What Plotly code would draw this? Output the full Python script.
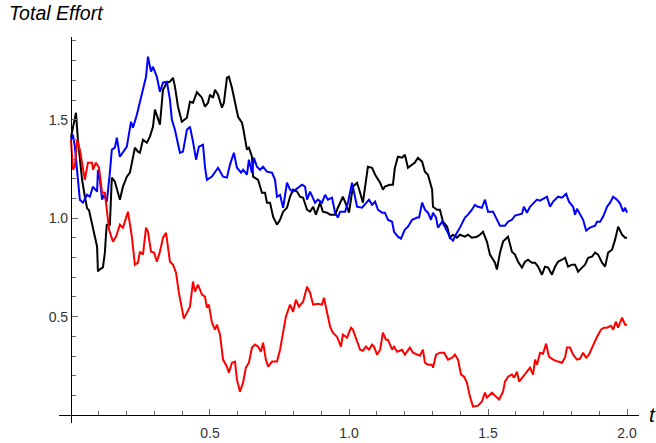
import numpy as np
import plotly.graph_objects as go

# ---- data: three sample paths of total effort over time t ----
t_black = [0.0, 0.018, 0.025, 0.040, 0.050, 0.058, 0.065, 0.079, 0.086, 0.094, 0.097, 0.104, 0.115, 0.122, 0.126, 0.129,
           0.140, 0.147, 0.158, 0.169, 0.176, 0.187, 0.201, 0.212, 0.223, 0.230, 0.241, 0.248, 0.259, 0.273, 0.284, 0.295,
           0.302, 0.313, 0.320, 0.331, 0.345, 0.356, 0.367, 0.374, 0.385, 0.399, 0.417, 0.428, 0.439, 0.453, 0.471, 0.482,
           0.493, 0.500, 0.511, 0.518, 0.529, 0.543, 0.550, 0.561, 0.568, 0.579, 0.590, 0.601, 0.615, 0.619, 0.633, 0.640,
           0.651, 0.655, 0.673, 0.687, 0.698, 0.705, 0.716, 0.727, 0.741, 0.752, 0.763, 0.777, 0.788, 0.799, 0.813, 0.824,
           0.835, 0.849, 0.860, 0.871, 0.881, 0.896, 0.906, 0.921, 0.932, 0.950, 0.960, 0.978, 0.993, 1.000, 1.014, 1.029,
           1.040, 1.050, 1.068, 1.083, 1.094, 1.112, 1.122, 1.129, 1.147, 1.158, 1.165, 1.176, 1.191, 1.201, 1.212, 1.227,
           1.237, 1.248, 1.263, 1.273, 1.284, 1.299, 1.302, 1.317, 1.327, 1.338, 1.353, 1.363, 1.374, 1.388, 1.399, 1.417,
           1.428, 1.442, 1.460, 1.471, 1.482, 1.496, 1.507, 1.525, 1.532, 1.543, 1.554, 1.572, 1.586, 1.597, 1.608, 1.622,
           1.633, 1.644, 1.658, 1.669, 1.680, 1.694, 1.705, 1.716, 1.730, 1.741, 1.752, 1.766, 1.777, 1.788, 1.802, 1.813,
           1.824, 1.838, 1.849, 1.860, 1.874, 1.885, 1.896, 1.910, 1.921, 1.932, 1.946, 1.957, 1.968, 1.982, 1.993, 2.000]
effort_black = [1.41, 1.535, 1.40, 1.195, 1.11, 1.05, 1.04, 0.95, 0.92, 0.855, 0.73, 0.74, 0.75, 0.825, 0.916, 0.967,
                0.967, 1.206, 1.185, 1.129, 1.094, 1.16, 1.211, 1.231, 1.312, 1.358, 1.338, 1.332, 1.398, 1.383, 1.414, 1.464,
                1.551, 1.50, 1.475, 1.652, 1.688, 1.693, 1.713, 1.668, 1.566, 1.49, 1.51, 1.591, 1.586, 1.64, 1.612, 1.566,
                1.586, 1.627, 1.612, 1.652, 1.627, 1.561, 1.586, 1.713, 1.718, 1.662, 1.591, 1.515, 1.485, 1.459, 1.348, 1.358,
                1.312, 1.211, 1.195, 1.129, 1.129, 1.079, 1.079, 1.008, 0.967, 0.992, 1.033, 1.053, 1.109, 1.145, 1.135, 1.109,
                1.104, 1.043, 1.033, 1.058, 1.018, 1.079, 1.033, 1.028, 1.018, 1.018, 1.053, 1.109, 1.058, 1.028, 1.16, 1.18,
                1.129, 1.079, 1.261, 1.256, 1.221, 1.18, 1.145, 1.16, 1.17, 1.17, 1.256, 1.312, 1.307, 1.322, 1.256, 1.272,
                1.282, 1.307, 1.287, 1.236, 1.221, 1.145, 1.058, 1.043, 1.043, 0.982, 0.957, 0.901, 0.916, 0.901, 0.916, 0.906,
                0.916, 0.901, 0.906, 0.916, 0.931, 0.881, 0.815, 0.774, 0.739, 0.825, 0.881, 0.906, 0.83, 0.815, 0.779, 0.749,
                0.779, 0.789, 0.774, 0.774, 0.754, 0.713, 0.754, 0.749, 0.713, 0.754, 0.779, 0.789, 0.799, 0.754, 0.764, 0.764,
                0.728, 0.749, 0.764, 0.799, 0.805, 0.825, 0.815, 0.774, 0.754, 0.825, 0.84, 0.891, 0.957, 0.916, 0.901, 0.901]

t_blue = [0.0, 0.007, 0.014, 0.025, 0.032, 0.043, 0.058, 0.068, 0.079, 0.094, 0.097, 0.104, 0.112, 0.119, 0.129, 0.140,
          0.147, 0.158, 0.165, 0.176, 0.187, 0.201, 0.216, 0.223, 0.237, 0.248, 0.259, 0.270, 0.277, 0.288, 0.295, 0.309,
          0.320, 0.331, 0.345, 0.356, 0.363, 0.374, 0.392, 0.403, 0.417, 0.428, 0.439, 0.450, 0.460, 0.475, 0.482, 0.489,
          0.507, 0.529, 0.547, 0.561, 0.572, 0.586, 0.597, 0.612, 0.619, 0.633, 0.640, 0.651, 0.658, 0.669, 0.680, 0.691,
          0.705, 0.723, 0.734, 0.741, 0.752, 0.763, 0.777, 0.788, 0.799, 0.817, 0.831, 0.842, 0.849, 0.860, 0.878, 0.888,
          0.903, 0.914, 0.924, 0.939, 0.950, 0.960, 0.968, 0.986, 0.996, 1.011, 1.022, 1.029, 1.047, 1.061, 1.072, 1.083,
          1.094, 1.104, 1.119, 1.129, 1.140, 1.155, 1.162, 1.176, 1.187, 1.201, 1.212, 1.227, 1.245, 1.252, 1.263, 1.273,
          1.284, 1.295, 1.302, 1.313, 1.320, 1.335, 1.345, 1.356, 1.363, 1.374, 1.388, 1.399, 1.417, 1.428, 1.442, 1.453,
          1.464, 1.478, 1.489, 1.500, 1.518, 1.532, 1.543, 1.561, 1.572, 1.586, 1.597, 1.622, 1.629, 1.640, 1.651, 1.662,
          1.676, 1.687, 1.705, 1.712, 1.723, 1.734, 1.752, 1.766, 1.781, 1.791, 1.806, 1.813, 1.820, 1.831, 1.842, 1.853,
          1.867, 1.885, 1.892, 1.903, 1.914, 1.928, 1.939, 1.950, 1.964, 1.975, 1.986, 1.993, 2.000]
effort_blue = [1.40, 1.424, 1.363, 1.195, 1.094, 1.079, 1.119, 1.109, 1.16, 1.135, 1.246, 1.195, 1.094, 1.119, 1.084, 1.231,
               1.348, 1.358, 1.409, 1.312, 1.332, 1.363, 1.49, 1.459, 1.525, 1.591, 1.652, 1.718, 1.82, 1.744, 1.769, 1.718,
               1.642, 1.688, 1.693, 1.602, 1.50, 1.449, 1.332, 1.338, 1.449, 1.464, 1.388, 1.297, 1.363, 1.373, 1.261, 1.195,
               1.211, 1.256, 1.211, 1.206, 1.272, 1.332, 1.256, 1.231, 1.246, 1.221, 1.297, 1.231, 1.307, 1.261, 1.246, 1.261,
               1.236, 1.231, 1.195, 1.109, 1.119, 1.053, 1.18, 1.145, 1.135, 1.155, 1.17, 1.16, 1.094, 1.135, 1.079, 1.094,
               1.079, 1.119, 1.094, 1.104, 1.028, 1.003, 1.033, 1.033, 1.079, 1.18, 1.109, 1.058, 1.053, 1.079, 1.094, 1.068,
               1.084, 1.043, 1.028, 1.028, 0.992, 0.982, 0.931, 0.906, 0.896, 0.942, 0.957, 0.992, 1.003, 1.003, 1.079, 1.043,
               1.028, 0.992, 1.028, 1.003, 0.952, 0.982, 0.957, 0.926, 0.901, 0.886, 0.926, 0.952, 1.003, 1.018, 1.043, 1.068,
               1.058, 1.053, 1.094, 1.033, 1.033, 0.992, 0.962, 0.962, 0.982, 0.992, 1.013, 1.023, 1.058, 1.028, 1.058, 1.074,
               1.094, 1.089, 1.104, 1.109, 1.058, 1.084, 1.109, 1.104, 1.124, 1.084, 1.058, 1.018, 1.048, 1.018, 0.992, 0.937,
               0.952, 0.962, 0.982, 0.982, 1.008, 1.058, 1.079, 1.109, 1.094, 1.074, 1.033, 1.053, 1.028]

t_red = [0.0, 0.007, 0.014, 0.022, 0.032, 0.040, 0.050, 0.061, 0.076, 0.079, 0.090, 0.101, 0.112, 0.122, 0.133, 0.137,
         0.151, 0.162, 0.176, 0.187, 0.205, 0.219, 0.230, 0.241, 0.248, 0.259, 0.270, 0.277, 0.288, 0.299, 0.309, 0.320,
         0.331, 0.342, 0.356, 0.367, 0.378, 0.388, 0.406, 0.417, 0.428, 0.439, 0.446, 0.457, 0.471, 0.482, 0.489, 0.496,
         0.507, 0.518, 0.525, 0.536, 0.547, 0.561, 0.568, 0.579, 0.590, 0.597, 0.608, 0.619, 0.629, 0.640, 0.651, 0.662,
         0.673, 0.683, 0.691, 0.701, 0.709, 0.723, 0.741, 0.752, 0.763, 0.773, 0.788, 0.799, 0.809, 0.820, 0.835, 0.849,
         0.860, 0.871, 0.888, 0.903, 0.910, 0.921, 0.932, 0.942, 0.957, 0.971, 0.978, 0.993, 1.007, 1.014, 1.029, 1.040,
         1.050, 1.061, 1.072, 1.083, 1.090, 1.101, 1.112, 1.122, 1.133, 1.140, 1.155, 1.162, 1.173, 1.191, 1.201, 1.219,
         1.230, 1.245, 1.255, 1.266, 1.273, 1.284, 1.299, 1.302, 1.313, 1.327, 1.342, 1.356, 1.371, 1.381, 1.392, 1.403,
         1.414, 1.424, 1.435, 1.446, 1.464, 1.478, 1.489, 1.496, 1.514, 1.525, 1.540, 1.554, 1.561, 1.572, 1.586, 1.594,
         1.604, 1.612, 1.626, 1.640, 1.651, 1.662, 1.669, 1.676, 1.687, 1.698, 1.709, 1.719, 1.734, 1.752, 1.766, 1.777,
         1.784, 1.795, 1.806, 1.820, 1.831, 1.842, 1.853, 1.863, 1.878, 1.892, 1.906, 1.917, 1.928, 1.942, 1.950, 1.960,
         1.968, 1.982, 1.993, 2.000]
effort_red = [1.40, 1.246, 1.261, 1.398, 1.348, 1.282, 1.195, 1.282, 1.282, 1.246, 1.282, 1.256, 1.129, 1.129, 0.992, 0.942,
              0.881, 0.906, 0.967, 0.952, 1.033, 0.906, 0.764, 0.774, 0.83, 0.815, 0.952, 0.931, 0.83, 0.825, 0.779, 0.83,
              0.901, 0.926, 0.779, 0.764, 0.723, 0.622, 0.49, 0.525, 0.551, 0.678, 0.627, 0.662, 0.612, 0.602, 0.546, 0.561,
              0.47, 0.434, 0.459, 0.409, 0.282, 0.246, 0.216, 0.266, 0.272, 0.18, 0.119, 0.165, 0.241, 0.266, 0.343, 0.358,
              0.348, 0.322, 0.368, 0.282, 0.246, 0.272, 0.272, 0.332, 0.419, 0.50, 0.561, 0.525, 0.586, 0.551, 0.576, 0.652,
              0.622, 0.561, 0.566, 0.561, 0.596, 0.52, 0.449, 0.419, 0.398, 0.348, 0.409, 0.393, 0.444, 0.434, 0.373, 0.332,
              0.327, 0.348, 0.332, 0.358, 0.348, 0.307, 0.332, 0.419, 0.383, 0.383, 0.332, 0.348, 0.322, 0.332, 0.307, 0.343,
              0.317, 0.307, 0.302, 0.332, 0.266, 0.256, 0.256, 0.241, 0.307, 0.317, 0.317, 0.282, 0.292, 0.307, 0.282, 0.206,
              0.195, 0.165, 0.094, 0.043, 0.048, 0.069, 0.114, 0.089, 0.114, 0.099, 0.079, 0.119, 0.17, 0.195, 0.206, 0.19,
              0.221, 0.17, 0.195, 0.221, 0.241, 0.206, 0.282, 0.256, 0.317, 0.312, 0.363, 0.297, 0.282, 0.272, 0.266, 0.292,
              0.343, 0.343, 0.307, 0.282, 0.287, 0.317, 0.292, 0.307, 0.358, 0.398, 0.434, 0.444, 0.444, 0.454, 0.434, 0.475,
              0.444, 0.495, 0.459, 0.459]

# ---- axes ----
x_ticks = [0.5, 1.0, 1.5, 2.0]
x_labels = ["0.5", "1.0", "1.5", "2.0"]
y_ticks = [0.5, 1.0, 1.5]
y_labels = ["0.5", "1.0", "1.5"]
x_range = [-0.043, 2.043]
y_range = [-0.040, 1.920]

x_minor = [round(v, 1) for v in np.arange(0.1, 2.01, 0.1) if round(v, 1) not in x_ticks]
y_minor = [round(v, 1) for v in np.arange(0.1, 1.91, 0.1) if round(v, 1) not in y_ticks]

fig = go.Figure()
for t, e, c in [(t_black, effort_black, "#000000"),
                (t_blue, effort_blue, "#0000ff"),
                (t_red, effort_red, "#ff0000")]:
    fig.add_trace(go.Scatter(x=t, y=e, mode="lines",
                             line=dict(color=c, width=2), showlegend=False,
                             hoverinfo="skip", cliponaxis=False))

tick_font = dict(family="Liberation Sans, Arial, sans-serif", size=14, color="#333333")
tick_color = "#666666"

fig.update_layout(
    width=656, height=443,
    margin=dict(l=59, r=17, t=37, b=20, autoexpand=False),
    plot_bgcolor="white", paper_bgcolor="white",
    xaxis=dict(range=x_range, domain=[0, 1], anchor="free", automargin=False,
               position=(0 - y_range[0]) / (y_range[1] - y_range[0]),
               showgrid=False, zeroline=False, showline=True, linecolor="black", linewidth=1,
               tickmode="array", tickvals=x_ticks, ticktext=x_labels,
               ticks="inside", ticklen=6, tickwidth=1, tickcolor=tick_color,
               ticklabelstandoff=5,
               minor=dict(tickmode="array", tickvals=x_minor, ticks="inside", ticklen=4,
                          tickwidth=1, tickcolor=tick_color, showgrid=False),
               tickfont=tick_font),
    yaxis=dict(range=y_range, domain=[0, 1], anchor="free", automargin=False,
               position=(0 - x_range[0]) / (x_range[1] - x_range[0]),
               showgrid=False, zeroline=False, showline=True, linecolor="black", linewidth=1,
               tickmode="array", tickvals=y_ticks, ticktext=y_labels,
               ticks="inside", ticklen=6, tickwidth=1, tickcolor=tick_color,
               minor=dict(tickmode="array", tickvals=y_minor, ticks="inside", ticklen=4,
                          tickwidth=1, tickcolor=tick_color, showgrid=False),
               tickfont=tick_font),
    annotations=[
        dict(text="<i>Total Effort</i>", xref="paper", yref="paper", x=-0.089, y=1.095,
             xanchor="left", yanchor="top", showarrow=False,
             font=dict(family="Liberation Sans, Arial, sans-serif", size=19.5, color="black")),
        dict(text="<i>t</i>", xref="paper", yref="paper", x=1.024, y=0.021,
             xanchor="center", yanchor="middle", showarrow=False,
             font=dict(family="Liberation Sans, Arial, sans-serif", size=21, color="black")),
    ],
)

fig.write_html("out.html")
